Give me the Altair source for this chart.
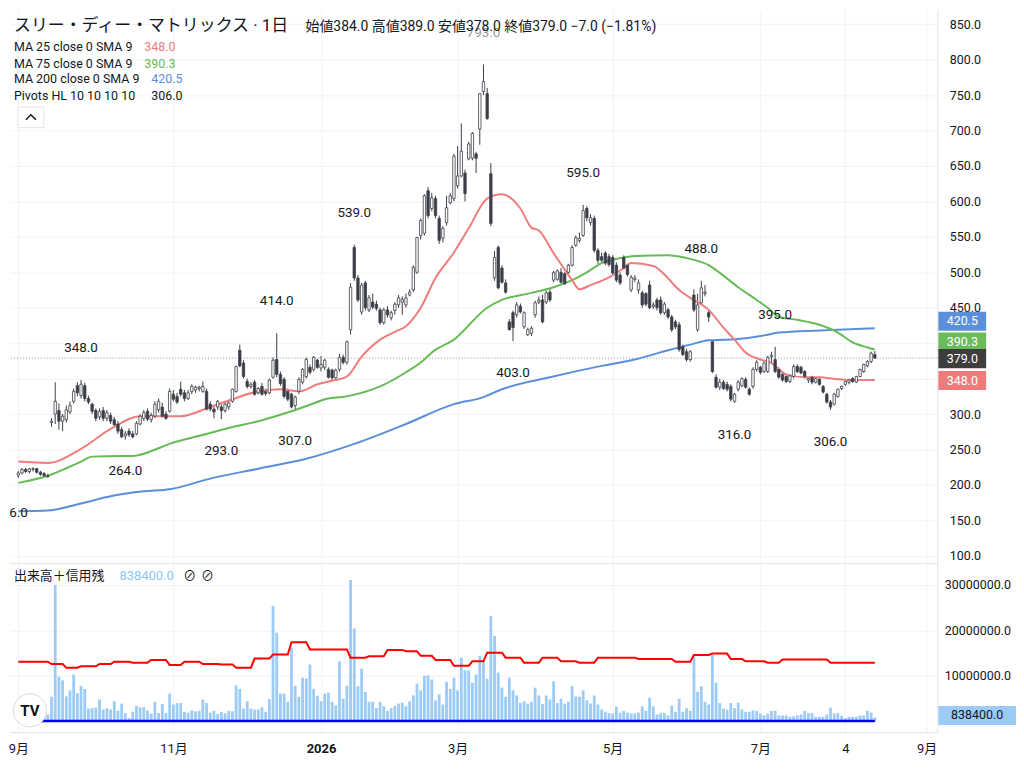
import altair as alt
import pandas as pd

FONT = "Roboto, 'Noto Sans CJK JP', sans-serif"
TXT = "#131722"
GRID = "#f0f3fa"
BORDER = "#e0e3eb"
DARK = "#3b3e48"
C_RED = "#f07c7c"
C_GREEN = "#66bb55"
C_BLUE = "#5b8fd9"
C_VOL = "#9ccbf6"

# ---------------- data ----------------
opens = [
214,217,222,219,222,223,218,216,213,288,
300,305,290,292,303,318,340,326,340,322,
314,305,296,305,294,298,292,286,278,269,
276,272,272,286,294,304,292,297,306,310,
300,304,328,325,335,330,322,332,334,336,
332,332,314,307,310,310,305,310,318,332,
390,372,346,339,345,330,339,332,330,352,
377,356,349,332,328,312,332,345,353,366,
363,376,365,366,363,362,351,363,380,373,
419,535,492,444,485,447,458,455,447,429,
447,436,446,454,458,454,468,475,500,552,
555,615,590,604,576,548,570,598,604,622,
636,640,660,661,667,702,755,752,639,492,
535,506,485,430,443,440,452,423,412,414,
440,458,461,458,472,489,490,500,498,500,
510,538,545,552,590,570,576,531,522,527,
522,521,510,496,521,510,475,490,475,471,
470,482,452,461,461,443,447,437,430,426,
395,388,377,468,419,457,470,443,402,352,
338,345,342,339,318,335,340,349,335,339,
363,366,360,360,381,377,363,356,353,346,
353,367,366,360,348,352,345,349,339,328,
317,314,325,336,342,345,350,345,353,360,
368,374,384]

highs = [
220,224,224,224,225,224,220,218,216,294,
345,315,300,312,318,336,345,348,344,326,
316,308,308,310,306,302,296,290,282,276,
280,276,290,300,306,308,302,318,322,316,
304,336,334,330,346,334,334,342,340,340,
346,336,318,310,320,314,318,320,336,368,
398,376,350,345,348,338,344,336,350,380,
414,360,352,336,330,326,352,365,380,370,
382,378,382,378,366,364,364,385,384,404,
485,539,496,485,488,468,470,460,450,450,
452,446,458,468,466,470,476,510,550,576,
610,620,612,608,580,565,608,612,667,678,
710,645,684,698,670,752,793,760,654,530,
538,510,490,434,446,458,456,445,422,424,
460,466,468,474,476,502,504,506,500,512,
538,552,556,595,593,582,580,534,528,530,
526,524,514,500,524,512,496,496,490,474,
472,488,458,464,466,458,450,440,433,430,
398,392,390,476,470,488,482,446,404,356,
350,348,346,342,330,348,352,352,338,366,
376,368,376,382,388,395,366,358,356,356,
370,370,368,362,352,354,352,352,341,330,
320,330,336,340,347,350,352,354,364,371,
376,388,389]

lows = [
210,215,217,216,219,216,213,211,210,282,
286,278,276,288,300,315,325,322,318,314,
300,290,292,290,290,286,282,272,266,264,
268,266,270,284,290,290,288,294,302,295,
292,302,318,314,325,318,320,328,330,332,
330,305,304,294,306,293,302,306,316,330,
366,350,336,336,326,328,326,326,328,350,
352,340,322,318,308,307,328,342,350,356,
360,364,360,362,350,348,348,360,370,370,
412,488,458,440,446,444,448,446,426,426,
436,432,440,450,440,450,466,472,498,546,
552,576,586,576,540,542,566,596,600,618,
634,600,658,658,640,680,750,715,565,488,
476,484,470,418,403,436,442,420,410,410,
436,455,428,455,458,486,488,484,482,496,
508,536,542,550,572,566,528,512,514,510,
508,496,486,482,504,494,472,486,470,450,
452,448,448,446,440,440,434,416,420,388,
382,374,374,444,416,454,466,430,358,336,
334,334,332,318,316,332,338,336,326,336,
360,356,358,358,372,358,350,346,344,344,
350,358,356,350,344,342,343,340,329,315,
306,312,323,334,340,342,344,344,352,358,
366,372,378]

closes = [
217,222,219,223,223,218,215,213,212,290,
318,290,297,306,312,332,330,342,322,317,
304,294,304,294,302,290,285,276,268,272,
271,268,287,297,302,293,298,314,318,297,
294,332,321,317,328,322,330,339,338,338,
339,307,307,303,318,305,314,316,335,367,
368,353,339,342,328,336,328,329,348,376,
356,343,325,321,310,324,349,363,377,359,
380,366,370,376,352,351,362,380,373,402,
479,492,461,482,450,464,451,449,429,447,
440,443,455,464,462,464,472,507,549,573,
608,580,605,580,545,562,591,608,664,636,
671,611,681,696,661,752,769,717,569,521,
478,486,472,419,422,454,444,443,419,421,
457,461,430,471,461,500,502,486,484,510,
535,549,548,587,577,577,531,517,517,513,
511,499,489,485,506,497,493,492,485,454,
455,450,454,450,443,455,437,419,423,391,
384,377,388,447,454,478,472,437,360,338,
345,336,335,321,328,345,350,338,328,363,
373,359,372,380,383,360,352,348,346,354,
367,360,358,353,350,345,350,342,331,317,
310,328,335,339,346,348,346,353,363,370,
374,386,379]

volumes_m = [
2.1,1.3,1.2,1.0,1.4,1.1,0.9,1.3,1.5,5.4,
30.0,9.8,9.0,5.5,6.8,10.3,6.2,7.8,7.1,2.8,
2.9,3.0,4.8,2.6,2.9,2.6,4.4,2.3,3.9,1.8,
0.7,2.1,3.4,3.1,3.1,2.4,1.7,4.3,1.8,3.8,
1.8,6.1,3.7,4.0,4.0,2.1,1.9,2.4,2.2,2.3,
4.8,4.0,1.9,2.3,1.6,2.1,1.8,2.3,2.2,7.9,
7.1,2.8,4.4,2.8,2.6,2.6,3.1,2.1,4.9,25.4,
19.5,6.1,6.1,4.3,16.2,7.8,5.4,9.6,9.4,12.5,
7.1,5.6,4.4,6.1,6.3,4.3,3.5,13.2,5.0,7.8,
31.1,20.4,7.7,11.6,6.5,4.3,4.3,2.9,4.3,3.3,
2.3,2.9,3.4,3.9,4.1,3.3,4.4,5.7,8.3,6.8,
10.0,10.1,9.2,4.6,5.9,3.7,8.7,7.1,9.6,6.8,
14.0,11.2,11.2,8.5,10.3,14.4,13.1,9.4,23.2,18.8,
10.7,7.4,5.4,9.6,6.8,5.7,4.1,4.4,3.9,4.3,
7.4,5.7,3.8,5.7,4.8,8.8,4.0,5.0,3.9,4.3,
7.8,5.5,5.4,6.8,4.6,3.9,5.7,3.7,2.6,2.1,
1.8,1.7,3.2,1.9,2.3,1.9,1.7,1.7,1.9,3.3,
2.3,5.2,3.3,1.5,1.8,1.8,1.3,3.5,2.1,5.0,
2.1,2.9,2.3,14.2,6.5,7.7,4.3,3.7,14.6,8.5,
4.0,2.8,2.6,4.0,2.9,4.1,2.6,2.1,2.1,2.4,
2.3,1.7,1.3,1.7,2.3,2.3,1.3,1.3,1.3,1.0,
1.1,1.3,1.5,2.3,1.8,1.8,1.0,1.0,1.0,1.5,
3.0,1.7,1.8,1.2,0.7,1.0,1.0,1.0,1.3,1.3,
2.3,1.9,0.8384]

ma25_i = [0,8,17,25,33,41,44,52,58,65,71,76,81,84,89,93,98,102,105,109,113,118,122,127,131,136,139,141,145,150,152,155,160,164,166,172,175,179,182,187,191,194,197,201,204,208,213,217,222,226,232]
ma25_v = [233,231,251,279,297,297,297,310,321,332,335,332,342,346,353,381,405,416,424,450,492,528,562,604,610,590,563,559,527,489,476,482,493,506,513,509,497,475,464,447,422,405,387,377,372,356,352,352,349,348,348]

ma75_i = [0,8,17,20,28,31,39,41,51,56,65,74,81,83,89,98,105,110,112,118,127,131,139,145,150,154,158,163,167,176,181,187,189,195,200,203,206,211,217,222,226,230,232]
ma75_v = [203,213,233,240,241,241,254,258,272,279,290,304,317,321,325,339,359,377,387,405,450,461,471,479,489,500,513,520,523,524,520,510,503,479,461,450,437,433,426,415,401,394,391]

ma200_i = [0,8,17,25,34,41,52,65,78,91,105,118,126,131,144,158,167,176,182,187,195,202,206,217,232]
ma200_v = [163,164,174,184,191,194,209,223,237,258,286,314,324,335,352,368,377,390,398,404,406,411,415,418,421]

pivot_i = [-2, 17, 29, 55, 70, 75, 91, 126, 134, 153, 185, 194, 205, 220]
pivot_p = [206.0, 348.0, 264.0, 293.0, 414.0, 307.0, 539.0, 793.0, 403.0, 595.0, 488.0, 316.0, 395.0, 306.0]
pivot_k = ["L", "H", "L", "L", "H", "L", "H", "H", "L", "H", "H", "L", "H", "L"]

margin_start = [0,9,13,17,22,26,31,36,41,45,50,55,59,64,69,74,79,90,95,100,105,109,113,118,123,127,132,137,142,147,152,157,168,178,183,188,193,197,203,207,220]
margin_end = [8,12,16,21,25,30,35,40,44,49,54,58,63,68,73,78,89,94,99,104,108,112,117,122,126,131,136,141,146,151,156,167,177,182,187,192,196,202,206,219,232]
margin_buy_m = [13.1,12.6,11.8,12.1,12.6,13.1,12.9,13.5,12.4,13.1,12.6,12.5,11.8,13.8,14.7,17.4,15.8,14.0,14.3,15.7,15.4,14.4,13.5,12.2,13.2,15.1,14.0,12.9,14.0,13.2,12.9,14.0,13.7,13.1,14.6,14.9,13.7,13.2,12.9,13.6,12.9]
margin_sell_i = [0, 232]
margin_sell_m = [0.08, 0.08]

tick_i = [0, 42, 82, 119, 161, 201, 224, 246]
tick_lab = ["9月", "11月", "2026", "3月", "5月", "7月", "4", "9月"]
price_ticks = list(range(100, 851, 50))
hidden_price_labels = [350, 400]   # covered by the value tags in the reference

ma_last = [348.0, 390.3, 420.5]
pivot_last = 306.0

# ---------------- frames ----------------
n = min(len(opens), len(highs), len(lows), len(closes), len(volumes_m))
bars = pd.DataFrame({
    "i": list(range(n)), "o": opens[:n], "h": highs[:n], "l": lows[:n],
    "c": closes[:n], "v": [x * 1e6 for x in volumes_m[:n]],
})

W, H1, H2 = 932, 556, 170
XS = alt.Scale(domain=[-0.9, 247.6], nice=False, zero=False)
PS = alt.Scale(domain=[89.8, 870.2], nice=False, zero=False)
VS = alt.Scale(domain=[-2.41e6, 34.8e6], nice=False, zero=False)

label_expr = " : ".join(f"datum.value == {i} ? '{s}'" for i, s in zip(tick_i, tick_lab)) + " : ''"
price_expr = (" || ".join(f"datum.value == {v}" for v in hidden_price_labels)
              + " ? '' : format(datum.value, '.1f')")

top_x_axis = alt.Axis(values=tick_i, labels=False, ticks=False, domain=True, domainColor=BORDER,
                      grid=True, gridColor=GRID, title=None, minExtent=0, maxExtent=0)
price_axis = alt.Axis(orient="right", values=price_ticks, labelExpr=price_expr, grid=True,
                      gridColor=GRID, ticks=False, domain=True, domainColor=BORDER, labelPadding=12,
                      labelFontSize=12.5, title=None, zindex=0)
bottom_x_axis = alt.Axis(values=tick_i, labelExpr=label_expr, grid=True, gridColor=GRID, ticks=False,
                         domain=True, domainColor=BORDER, labelPadding=10, labelFontSize=13, title=None,
                         labelFlush=False,
                         labelFontWeight={"condition": {"test": "datum.value == 82", "value": "bold"},
                                          "value": "normal"})
vol_axis = alt.Axis(orient="right", values=[10e6, 20e6, 30e6], labelExpr="format(datum.value, '.1f')",
                    grid=True, gridColor=GRID, ticks=False, domain=True, domainColor=BORDER,
                    labelPadding=7, labelFontSize=12.5, title=None, zindex=0)


def xt(f):
    return alt.X(f, type="quantitative", scale=XS, axis=top_x_axis)


def xb(f):
    return alt.X(f, type="quantitative", scale=XS, axis=bottom_x_axis)


def yp(f):
    return alt.Y(f, type="quantitative", scale=PS, axis=price_axis)


def yv(f):
    return alt.Y(f, type="quantitative", scale=VS, axis=vol_axis)


def txt(s, x, y, color=TXT, size=12.5, weight="normal", align="left", font=FONT, opacity=1):
    return alt.Chart(pd.DataFrame({"t": [s]})).mark_text(
        align=align, baseline="middle", font=font, fontSize=size,
        fontWeight=weight, color=color, opacity=opacity,
    ).encode(x=alt.value(x), y=alt.value(y), text="t:N")


# ---------------- price pane ----------------
wicks = alt.Chart(bars).mark_rule(color=DARK, strokeWidth=1).encode(
    x=xt("i"), y=yp("l"), y2="h:Q",
)
bodies = alt.Chart(bars).mark_bar(width=2.4, stroke=DARK, strokeWidth=0.8).encode(
    x=xt("i"), y=yp("o"), y2="c:Q",
    fill=alt.condition("datum.c >= datum.o", alt.value("#ffffff"), alt.value(DARK)),
)


def ma_line(ii, vv, col):
    return alt.Chart(pd.DataFrame({"i": ii, "v": vv})).mark_line(
        color=col, strokeWidth=2, interpolate="monotone").encode(x=xt("i"), y=yp("v"))


lines = [ma_line(ma200_i, ma200_v, C_BLUE), ma_line(ma75_i, ma75_v, C_GREEN), ma_line(ma25_i, ma25_v, C_RED)]

piv = pd.DataFrame({"i": pivot_i, "p": pivot_p, "k": pivot_k})
piv["t"] = [f"{v:.1f}" for v in pivot_p]
piv_hi = alt.Chart(piv).transform_filter("datum.k == 'H'").mark_text(
    dy=-32, fontSize=13.5, font=FONT, color=TXT, clip=True, baseline="middle").encode(
    x=xt("i"), y=yp("p"), text="t:N",
    opacity=alt.condition("datum.p > 700", alt.value(0.45), alt.value(1)))
piv_lo = alt.Chart(piv).transform_filter("datum.k == 'L'").mark_text(
    dy=32, fontSize=13.5, font=FONT, color=TXT, clip=True, baseline="middle").encode(
    x=xt("i"), y=yp("p"), text="t:N")

lastline = alt.Chart(pd.DataFrame({"c": [closes[n - 1]]})).mark_rule(
    color="#8d919c", strokeDash=[1, 2], strokeWidth=1).encode(y=yp("c"))

RECT = "M-1,-0.4L1,-0.4L1,0.4L-1,0.4Z"
tag_vals = [ma_last[2], ma_last[1], closes[n - 1], ma_last[0]]
tag_cols = [C_BLUE, "#6abb5a", "#3d3d3d", "#ee7b7b"]
tag_offs = [-7.5, -8, 0.5, 0.5]
tags = []
for val, col, off in zip(tag_vals, tag_cols, tag_offs):
    d = pd.DataFrame({"v": [val], "t": [f"{val:.1f}"]})
    tags.append(alt.Chart(d).mark_point(shape=RECT, size=48 * 48, filled=True, fill=col, color=col,
                                        opacity=1, strokeWidth=0, yOffset=off)
                .encode(x=alt.value(W + 25), y=yp("v")))
    tags.append(alt.Chart(d).mark_text(color="white", fontSize=12.5, font=FONT, align="center",
                                       baseline="middle", dy=off)
                .encode(x=alt.value(W + 25), y=yp("v"), text="t:N"))

o_, h_, l_, c_ = opens[n - 1], highs[n - 1], lows[n - 1], closes[n - 1]
chg = c_ - closes[n - 2]
pct = chg / closes[n - 2] * 100
sign = "−" if chg < 0 else "+"
ohlc_text = (f"始値{o_:.1f} 高値{h_:.1f} 安値{l_:.1f} 終値{c_:.1f} "
             f"{sign}{abs(chg):.1f} ({sign}{abs(pct):.2f}%)")

header = [
    txt("スリー・ディー・マトリックス · 1日", 4, 16, size=17),
    txt(ohlc_text, 297, 17, size=14),
    txt("MA 25 close 0 SMA 9", 4, 37), txt(f"{ma_last[0]:.1f}", 135, 37, color=C_RED),
    txt("MA 75 close 0 SMA 9", 4, 54), txt(f"{ma_last[1]:.1f}", 135, 54, color=C_GREEN),
    txt("MA 200 close 0 SMA 9", 4, 70), txt(f"{ma_last[2]:.1f}", 142, 70, color=C_BLUE),
    txt("Pivots HL 10 10 10 10", 4, 87), txt(f"{pivot_last:.1f}", 142, 87),
]
btn_box = alt.Chart(pd.DataFrame({"a": [1]})).mark_point(
    shape="M-1,-0.8L1,-0.8L1,0.8L-1,0.8Z", size=26 * 26, filled=True, fill="white",
    stroke=BORDER, strokeWidth=1, opacity=1).encode(x=alt.value(21), y=alt.value(108))
btn_chev = alt.Chart(pd.DataFrame({"a": [1]})).mark_point(
    shape="M-1,0.5L0,-0.5L1,0.5", size=100, filled=False, stroke=TXT, strokeWidth=1.5,
    opacity=1).encode(x=alt.value(21), y=alt.value(108))

top = alt.layer(wicks, lastline, *lines, bodies, piv_hi, piv_lo, *header, btn_box, btn_chev,
                *tags).properties(width=W, height=H1)

# ---------------- volume pane ----------------
vol = alt.Chart(bars).mark_bar(width=2.8, color=C_VOL).encode(
    x=xb("i"), y=yv("v"), y2=alt.datum(0),
)
mrows = []
for s, e, v in zip(margin_start, margin_end, margin_buy_m):
    mrows.append({"i": s, "v": v * 1e6})
    mrows.append({"i": e, "v": v * 1e6})
margin_line = alt.Chart(pd.DataFrame(mrows)).mark_line(color="#ff0000", strokeWidth=2).encode(
    x=xb("i"), y=yv("v"))
sell_line = alt.Chart(pd.DataFrame({"i": margin_sell_i, "v": [x * 1e6 for x in margin_sell_m]})).mark_line(
    color="#0000ff", strokeWidth=2.5).encode(x=xb("i"), y=yv("v"))

vlast = bars["v"].iloc[-1]
vd = pd.DataFrame({"v": [vlast], "t": [f"{vlast:.1f}"]})
vtag = [
    alt.Chart(vd).mark_point(shape="M-1,-0.245L1,-0.245L1,0.245L-1,0.245Z", size=78 * 78, filled=True,
                             fill=C_VOL, color=C_VOL, opacity=1, strokeWidth=0, yOffset=-2)
    .encode(x=alt.value(W + 40), y=yv("v")),
    alt.Chart(vd).mark_text(color=TXT, fontSize=12.5, font=FONT, align="center", baseline="middle", dy=-2)
    .encode(x=alt.value(W + 40), y=yv("v"), text="t:N"),
]
vhead = [
    txt("出来高＋信用残", 4, 13, size=13),
    txt(f"{vlast:.1f}", 110, 13, color="#8fc4f5", size=13),
    txt("⊘", 174, 13, size=13),
    txt("⊘", 192, 13, size=13),
]
logo = [
    alt.Chart(pd.DataFrame({"a": [1]})).mark_point(shape="circle", size=1100, filled=True, fill="white",
                                                   stroke="#d6d9e0", strokeWidth=1, opacity=1)
    .encode(x=alt.value(20), y=alt.value(148)),
    txt("TV", 20, 149, size=15, weight="bold", align="center", color="#111111"),
]

bottom = alt.layer(vol, margin_line, sell_line, *vhead, *logo, *vtag).properties(width=W, height=H2)

chart = alt.vconcat(top, bottom, spacing=0).properties(
    padding=0, background="white"
).configure_view(stroke=None).configure_axis(labelFont=FONT, labelColor=TXT)

chart.save("out.html", embed_options={"renderer": "svg", "actions": False})
